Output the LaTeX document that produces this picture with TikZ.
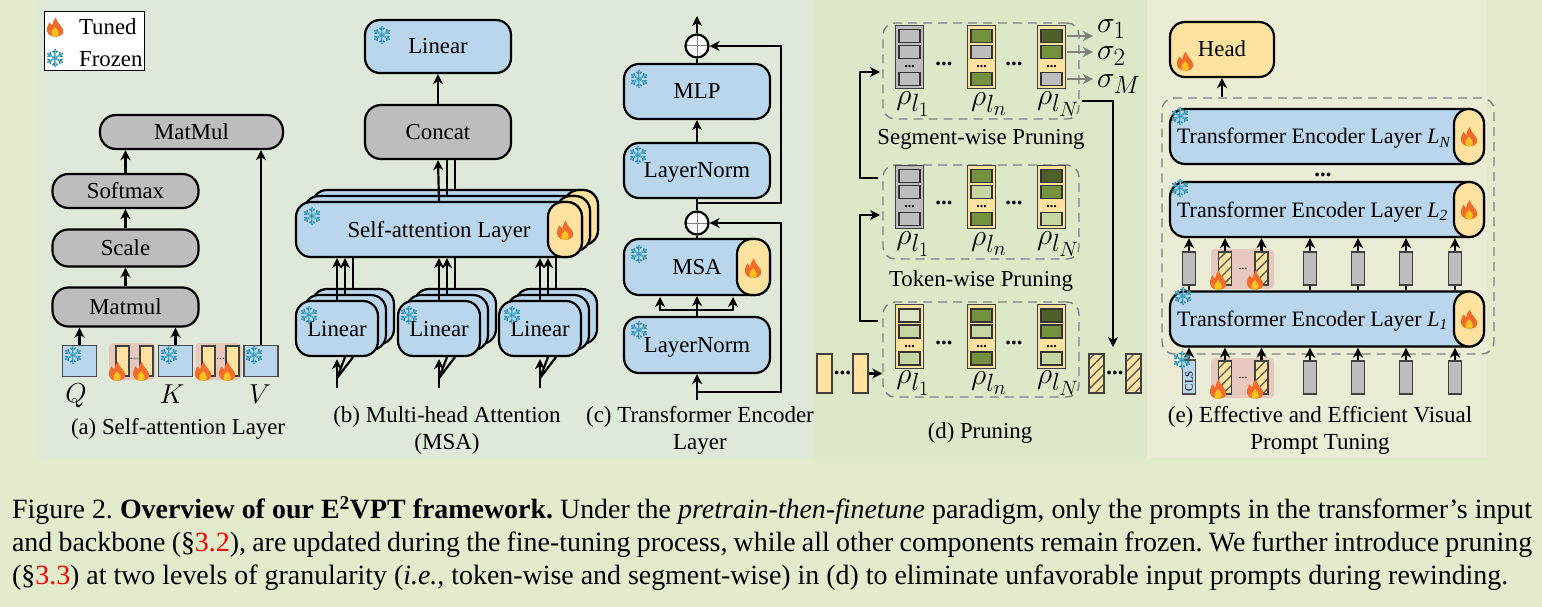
\documentclass[tikz,border=0pt]{standalone}
\usepackage{graphicx}
\usepackage{fontspec}
\setmainfont{Liberation Serif}
\usetikzlibrary{arrows.meta,patterns.meta,calc}

\definecolor{pageback}{HTML}{E3EBCD}
\definecolor{panelA}{HTML}{DFE9D9}
\definecolor{panelD}{HTML}{DDE8C8}
\definecolor{panelE}{HTML}{EBEBD6}
\definecolor{blockblue}{HTML}{BAD6EC}
\definecolor{blockgray}{HTML}{BDBDBD}
\definecolor{promptyellow}{HTML}{FFE29F}
\definecolor{promptpink}{HTML}{E6C8BE}
\definecolor{greenA}{HTML}{4F5F2A}
\definecolor{greenB}{HTML}{74923D}
\definecolor{greenC}{HTML}{C6D6A3}
\definecolor{greenD}{HTML}{DFE6C8}
\definecolor{dashgray}{HTML}{808080}
\definecolor{snowteal}{HTML}{2C88A6}
\definecolor{snowlight}{HTML}{62C8E2}
\definecolor{fireout}{HTML}{F26B2A}
\definecolor{firein}{HTML}{FFC21F}

\tikzset{
    labeltext/.style={font=\fontsize{22.8}{25}\selectfont,inner sep=0pt},
    pillbox/.style={draw=black,fill=blockgray,rounded corners=16pt,inner sep=0pt,text height=15pt,text depth=0pt,font=\fontsize{22.8}{25}\selectfont},
    bluebox/.style={draw=black,fill=blockblue,rounded corners=15pt,inner sep=0pt,text height=15pt,text depth=0pt,font=\fontsize{22.8}{25}\selectfont},
    capbox/.style={draw=black,fill=promptyellow,rounded corners=15pt,inner sep=0pt},
    flatbox/.style={draw=black!70,line width=1.3pt,fill=blockblue,inner sep=0pt},
    tokbox/.style={draw=black!75,line width=1.5pt,fill=blockgray,inner sep=0pt,minimum width=13,minimum height=33},
    yellowbar/.style={draw=black!75,line width=1.3pt,fill=promptyellow,inner sep=0pt},
    hatchbar/.style={draw=black!75,line width=1.3pt,inner sep=0pt,preaction={fill=promptyellow},
        pattern={Lines[angle=45,distance=7pt,line width=1.3pt]},pattern color=black!65},
    pinkback/.style={fill=promptpink,rounded corners=4pt,inner sep=0pt},
    dashbox/.style={draw=dashgray,line width=1.4pt,dash pattern=on 9pt off 6pt,rounded corners=12pt,inner sep=0pt},
    colbox/.style={draw=black!75,line width=1.3pt,inner sep=0pt,minimum width=28.5,minimum height=63.5},
    cellbox/.style={draw=black!80,line width=1.3pt,inner sep=0pt,minimum width=21,minimum height=13},
    dotmark/.style={inner sep=0pt,font=\fontsize{22.8}{25}\bfseries\selectfont},
    cellmark/.style={inner sep=0pt,font=\fontsize{14}{14}\bfseries\selectfont},
    smallmark/.style={inner sep=0pt,font=\fontsize{12}{12}\selectfont},
    symtext/.style={inner sep=0pt,font=\fontsize{24.88}{30}\selectfont},
    plusnode/.style={circle,draw=black,fill=white,inner sep=0pt,minimum size=23,
        path picture={\draw [dashgray,line width=1pt] (path picture bounding box.north) -- (path picture bounding box.south)
            (path picture bounding box.west) -- (path picture bounding box.east);}},
    firepic/.pic={
        \fill [fireout,scale=1.15] (0,8.5) .. controls (-5,8.5) and (-7.5,5) .. (-7,1) .. controls (-6.5,-1) and (-5.5,-2) .. (-5,-4)
            .. controls (-3.5,-3) and (-3,-2) .. (-2.5,-1) .. controls (-2,-4) and (-1,-7) .. (1,-8.5)
            .. controls (1,-5) and (3,-4) .. (5,-1) .. controls (7,1) and (7.5,3) .. (7,5)
            .. controls (6,7.5) and (3,8.5) .. (0,8.5) -- cycle;
        \fill [firein,scale=1.15] (0,8.5) .. controls (-3,8.5) and (-4,6) .. (-3,4) .. controls (-2,2.5) and (-1,2) .. (0,0)
            .. controls (1,2) and (3.5,3) .. (3.5,5.5) .. controls (3.5,7.5) and (2,8.5) .. (0,8.5) -- cycle;
    },
    snowpic/.pic={
        \foreach \ang in {30,90,...,330} {
            \draw [snowteal,line width=1.5pt,line cap=round] (0,0) -- (\ang:8.5)
                (\ang:5) -- +(\ang+50:3) (\ang:5) -- +(\ang-50:3);
            \draw [snowlight,line width=.6pt] (0,0) -- (\ang:8);
        }
    },
}

% one column of a pruning group
\newcommand{\tokcol}[7]{
    \node [colbox,fill=#4] (#1) at (#2,#3) {};
    \node [cellbox,fill=#5] (#1a) at (#2,#3-21) {};
    \node [cellbox,fill=#6] (#1b) at (#2,#3-5) {};
    \node [cellmark] (#1d) at (#2,#3+10) {...};
    \node [cellbox,fill=#7] (#1c) at (#2,#3+22) {};
}
\newcommand{\bigsym}[1]{\scalebox{1.2}{$#1$}}

\begin{document}
\begin{tikzpicture}[>={Stealth[length=10pt,width=10pt,inset=3pt]},x=1pt,y=-1pt,line width=2.2pt]
    \useasboundingbox (0,0) rectangle (1542,607);
    \fill [pageback] (0,0) rectangle (1542,607);
    \fill [panelA] (37,0) rectangle (813,458);
    \fill [panelD] (813,0) rectangle (1147,458);
    \fill [panelE] (1147,0) rectangle (1487,458);

    % legend
    \node [draw=black,line width=1pt,fill=white,minimum width=100,minimum height=59,inner sep=0pt] (legend) at (94,41.5) {};
    \node [labeltext,anchor=west] (tuned) at (78,27) {Tuned};
    \node [labeltext,anchor=west] (frozen) at (78,59) {Frozen};
    \pic at (55,27) {firepic};
    \pic at (55,58) {snowpic};

    % (a) self-attention layer
    \node [pillbox,minimum width=183,minimum height=34] (matmulA) at (191.5,132) {MatMul};
    \node [pillbox,minimum width=146,minimum height=34] (softmax) at (125.5,191) {Softmax};
    \node [pillbox,minimum width=146,minimum height=37] (scale) at (125.5,248) {Scale};
    \node [pillbox,minimum width=146,minimum height=39] (matmulB) at (125.5,307) {Matmul};
    \node [pinkback,minimum width=46,minimum height=37] (pinkA) at (132,361.5) {};
    \node [pinkback,minimum width=46,minimum height=37] (pinkB) at (218.5,361.5) {};
    \node [flatbox,minimum width=34,minimum height=31] (qbox) at (79.5,361) {};
    \node [flatbox,minimum width=34,minimum height=31] (kbox) at (175.5,361) {};
    \node [flatbox,minimum width=34,minimum height=31] (vbox) at (261,361) {};
    \foreach \x/\n in {122.5/a,146.5/b,208.5/c,232.5/d}
        \node [yellowbar,minimum width=13,minimum height=30] (bar\n) at (\x,361) {};
    \node [smallmark] (dotsA) at (134.5,359) {...};
    \node [smallmark] (dotsB) at (220.5,359) {...};
    \foreach \x in {117,141,203,227}
        \pic at (\x,371) {firepic};
    \foreach \x in {73,169,254}
        \pic at (\x,355) {snowpic};
    \node [symtext] (qlabel) at (76,396) {\scalebox{1.1}{$Q$}};
    \node [symtext] (klabel) at (172,394) {\scalebox{1.1}{$K$}};
    \node [symtext] (vlabel) at (260,394) {\scalebox{1.1}{$V$}};
    \node [labeltext] (capA) at (178,429) {(a) Self-attention Layer};
    \draw [->] (softmax) -- (softmax.north |- matmulA.south);
    \draw [->] (scale) -- (softmax);
    \draw [->] (matmulB) -- (scale);
    \draw [->] (qbox) -- (qbox.north |- matmulB.south);
    \draw [->] (kbox) -- (kbox.north |- matmulB.south);
    \draw [->] (vbox.north) -- (vbox.north |- matmulA.south);

    % (b) multi-head attention
    \node [bluebox,minimum width=146,minimum height=53] (linearT) at (438,46.5) {Linear};
    \node [pillbox,minimum width=146,minimum height=54] (concat) at (438,132) {Concat};
    \foreach \d/\m in {16/c,8/b} {
        \node [bluebox,minimum width=286,minimum height=55] (sa\m) at (439+\d,229.5-.75*\d) {};
        \node [capbox,minimum width=34,minimum height=55] (sacap\m) at (565+\d,229.5-.75*\d) {};
    }
    \node [bluebox,minimum width=286,minimum height=55] (saa) at (439,229.5) {Self-attention Layer};
    \node [capbox,minimum width=34,minimum height=55] (sacapa) at (565,229.5) {};
    \foreach \x/\n in {337/A,439/B,540/C} {
        \foreach \d/\m in {16/c,8/b}
            \node [bluebox,minimum width=82,minimum height=55] (lin\n\m) at (\x+\d,328.5-.75*\d) {};
        \node [bluebox,minimum width=82,minimum height=55] (lin\n a) at (\x,328.5) {Linear};
        \coordinate (base\n) at (\x,388);
        \coordinate (fork\n) at (\x,378);
        \draw [->,shorten >=2pt] (base\n) -- (lin\n a.south);
        \draw (fork\n) -- (lin\n b.south |- lin\n a.south);
        \draw (fork\n) -- (lin\n c.south |- lin\n a.south);
        \draw [->] (lin\n a.north) -- (lin\n a.north |- saa.south);
        \draw [->] (lin\n b.north) -- (lin\n b.north |- saa.south);
        \draw (lin\n c.north) -- (lin\n c.north |- saa.south);
    }
    \draw [->] (saa.north) -- (concat.south);
    \draw (sab.north) -- (sab.north |- concat.south);
    \draw (sac.north) -- (sac.north |- concat.south);
    \draw [->] (concat) -- (linearT);
    \foreach \x/\y in {382/35,312/216,309/315,409/315,512/315}
        \pic at (\x,\y) {snowpic};
    \pic at (565,230) {firepic};
    \node [labeltext,font=\fontsize{23}{25}\selectfont,align=flush center] (capB) at (447,430) {(b) Multi-head Attention\\[2pt](MSA)};

    % (c) transformer encoder layer
    \node [bluebox,minimum width=146,minimum height=55] (mlp) at (697,91.5) {MLP};
    \node [bluebox,minimum width=146,minimum height=55] (normB) at (697,170.5) {LayerNorm};
    \node [bluebox,minimum width=146,minimum height=56] (msa) at (697,267) {MSA};
    \node [capbox,minimum width=33,minimum height=56] (msacap) at (753.5,267) {};
    \node [bluebox,minimum width=146,minimum height=56] (normA) at (697,345) {LayerNorm};
    \node [plusnode] (plusT) at (697,46) {};
    \node [plusnode] (plusB) at (697,223) {};
    \coordinate (outT) at (697,16);
    \coordinate (inA) at (697,400);
    \coordinate (tapA) at (697,392);
    \coordinate (tapB) at (697,203);
    \coordinate (railT) at (781,46);
    \coordinate (railB) at (781,223);
    \draw [->] (inA) -- (normA.south);
    \draw [->] (normA) -- (msa);
    \draw [->] (697,310) -| (660,297);
    \draw [->] (697,310) -| (733,297);
    \draw (msa) -- (plusB);
    \draw (plusB) -- (normB);
    \draw [->] (normB) -- (mlp);
    \draw (mlp) -- (plusT);
    \draw [->] (plusT) -- (outT);
    \draw [->] (tapA) -| (railB) -- (plusB);
    \draw [->] (tapB) -| (railT) -- (plusT);
    \foreach \x/\y in {639/79,638/155,639/254,639/330}
        \pic at (\x,\y) {snowpic};
    \pic at (753,268) {firepic};
    \node [labeltext,font=\fontsize{23}{25}\selectfont,align=flush center] (capC) at (700,430) {(c) Transformer Encoder\\[2pt]Layer};

    % (d) pruning
    \node [dashbox,minimum width=196,minimum height=96] (dashA) at (981,71) {};
    \node [dashbox,minimum width=196,minimum height=94] (dashB) at (981,212) {};
    \node [dashbox,minimum width=196,minimum height=95] (dashC) at (981,349.5) {};
    \tokcol{ga}{909.5}{57}{blockgray}{blockgray}{blockgray}{blockgray}
    \tokcol{gb}{981.5}{57}{promptyellow}{greenB}{blockgray}{greenB}
    \tokcol{gc}{1051.5}{57}{promptyellow}{greenA}{greenB}{blockgray}
    \tokcol{ha}{909.5}{197}{blockgray}{blockgray}{blockgray}{blockgray}
    \tokcol{hb}{981.5}{197}{promptyellow}{greenB}{greenC}{greenB}
    \tokcol{hc}{1051.5}{197}{promptyellow}{greenA}{greenB}{greenC}
    \tokcol{ia}{909.5}{336.5}{promptyellow}{greenD}{greenC}{greenC}
    \tokcol{ib}{981.5}{336.5}{promptyellow}{greenB}{greenC}{greenB}
    \tokcol{ic}{1051.5}{336.5}{promptyellow}{greenA}{greenB}{greenC}
    \foreach \n/\y in {a/104,b/244,c/383} {
        \node [symtext] (rho\n a) at (913,\y) {\bigsym{\rho_{l_1}}};
        \node [symtext] (rho\n b) at (989,\y) {\bigsym{\rho_{l_n}}};
        \node [symtext] (rho\n c) at (1058,\y) {\bigsym{\rho_{l_N}}};
    }
    \foreach \n/\y in {a/64,b/203,c/343} {
        \node [dotmark] (gapl\n) at (944,\y) {...};
        \node [dotmark] (gapr\n) at (1014,\y) {...};
    }
    \node [symtext,anchor=west] (sigA) at (1096,29) {\bigsym{\sigma_1}};
    \node [symtext,anchor=west] (sigB) at (1096,56) {\bigsym{\sigma_2}};
    \node [symtext,anchor=west] (sigC) at (1096,84) {\bigsym{\sigma_M}};
    \draw [->,dashgray,shorten >=3pt] (gc.east |- gca.east) ++(1,0) -- (sigA.west |- gca.east);
    \draw [->,dashgray,shorten >=3pt] (gc.east |- gcb.east) ++(1,0) -- (sigB.west |- gcb.east);
    \draw [->,dashgray,shorten >=3pt] (gc.east |- gcc.east) ++(1,0) -- (sigC.west |- gcc.east);
    \node [labeltext] (segtext) at (981,139) {Segment-wise Pruning};
    \node [labeltext] (toktext) at (981,281) {Token-wise Pruning};
    \node [labeltext] (capD) at (980,433) {(d) Pruning};
    \node [yellowbar,minimum width=15,minimum height=39] (inA1) at (824.5,373.5) {};
    \node [yellowbar,minimum width=15,minimum height=39] (inA2) at (860.5,373.5) {};
    \node [dotmark] (inDots) at (842.5,373) {...};
    \node [hatchbar,minimum width=15,minimum height=39] (hatA1) at (1096.5,373.5) {};
    \node [hatchbar,minimum width=15,minimum height=39] (hatA2) at (1133.5,373.5) {};
    \node [dotmark] (hatDots) at (1115,373) {...};
    \coordinate (tapC) at (878,321);
    \coordinate (tapD) at (878,178);
    \coordinate (tipB) at (880,215);
    \coordinate (tipA) at (880,72);
    \coordinate (tapE) at (1082,101);
    \coordinate (tipE) at (1113,347);
    \draw [->] (inA2) -- (dashC.west |- inA2);
    \draw [->] (tapC) -- ++(-18,0) |- (tipB);
    \draw [->] (tapD) -- ++(-18,0) |- (tipA);
    \draw [->] (tapE) -| (tipE);

    % (e) effective and efficient visual prompt tuning
    \node [capbox,rounded corners=15pt,minimum width=104,minimum height=55,text height=15pt,text depth=0pt,font=\fontsize{22.8}{25}\selectfont] (head) at (1222,49.5) {Head};
    \node [dashbox,minimum width=332,minimum height=256] (encbox) at (1328,226) {};
    \foreach \y/\n/\t in {136.5/C/\textit{L}\textsubscript{\textit{N}},209.5/B/\textit{L}\textsubscript{\textit{2}},319/A/\textit{L}\textsubscript{\textit{1}}} {
        \node [bluebox,font=\fontsize{22}{25}\selectfont,minimum width=314,minimum height=55,text width=300,inner xsep=7pt,align=flush left] (enc\n) at (1327,\y) {Transformer Encoder Layer \t};
        \node [capbox,minimum width=30,minimum height=55] (enccap\n) at (1469,\y) {};
        \pic at (1469,\y) {firepic};
    }
    \node [dotmark] (encDots) at (1323,175) {...};
    \foreach \y/\n in {269/U,378/L} {
        \node [pinkback,minimum width=63,minimum height=40] (pink\n) at (1242.5,\y) {};
        \node [hatchbar,minimum width=13,minimum height=33] (hat\n a) at (1225,\y-.5) {};
        \node [hatchbar,minimum width=13,minimum height=33] (hat\n b) at (1261.5,\y-.5) {};
        \node [smallmark] (dots\n) at (1243,\y-.5) {...};
        \foreach \x/\m in {1310/d,1358/e,1406/f,1455/g}
            \node [tokbox] (tok\n\m) at (\x,\y-.5) {};
    }
    \node [tokbox] (tokUa) at (1189,268.5) {};
    \node [flatbox,minimum width=13,minimum height=34,inner sep=0pt] (cls) at (1189,377) {};
    \node [rotate=90,inner sep=0pt,font=\fontsize{11}{11}\selectfont] (clstext) at (1189,381) {CLS};
    \foreach \m in {Ua,Ud,Ue,Uf,Ug} {
        \draw [->] (tok\m.north) -- (tok\m.north |- encB.south);
        \draw (tok\m.south) -- (tok\m.south |- encA.north);
    }
    \foreach \m in {Ld,Le,Lf,Lg}
        \draw [->] (tok\m.north) -- (tok\m.north |- encA.south);
    \draw [->] (cls.north) -- (cls.north |- encA.south);
    \draw [->] (hatUa.north) -- (hatUa.north |- encB.south);
    \draw [->] (hatUb.north) -- (hatUb.north |- encB.south);
    \draw [->] (hatLa.north) -- (hatLa.north |- encA.south);
    \draw [->] (hatLb.north) -- (hatLb.north |- encA.south);
    \draw [->] (head.south |- encbox.north) -- (head.south);
    \foreach \x/\y in {1180/116,1180/188,1183/296,1182/360}
        \pic at (\x,\y) {snowpic};
    \foreach \x/\y in {1218/280,1255/280,1218/389,1255/389,1185/61}
        \pic at (\x,\y) {firepic};
    \node [labeltext,font=\fontsize{23}{25}\selectfont,align=flush center] (capE) at (1320,430) {(e) Effective and Efficient Visual\\[2pt]Prompt Tuning};

    % caption
    \node [anchor=north west,inner sep=0pt,align=flush left,font=\fontsize{27.9}{33}\selectfont\frenchspacing] (caption) at (11,495) {%
        \makebox[1520pt][s]{Figure 2. \textbf{Overview of our E\textsuperscript{2}VPT framework.} Under the \textit{pretrain-then-finetune} paradigm, only the prompts in the transformer's input}\\
        \makebox[1520pt][s]{and backbone (§\textcolor{red}{3.2}), are updated during the fine-tuning process, while all other components remain frozen. We further introduce pruning}\\
        (§\textcolor{red}{3.3}) at two levels of granularity (\textit{i.e.}, token-wise and segment-wise) in (d) to eliminate unfavorable input prompts during rewinding.};
\end{tikzpicture}
\end{document}
